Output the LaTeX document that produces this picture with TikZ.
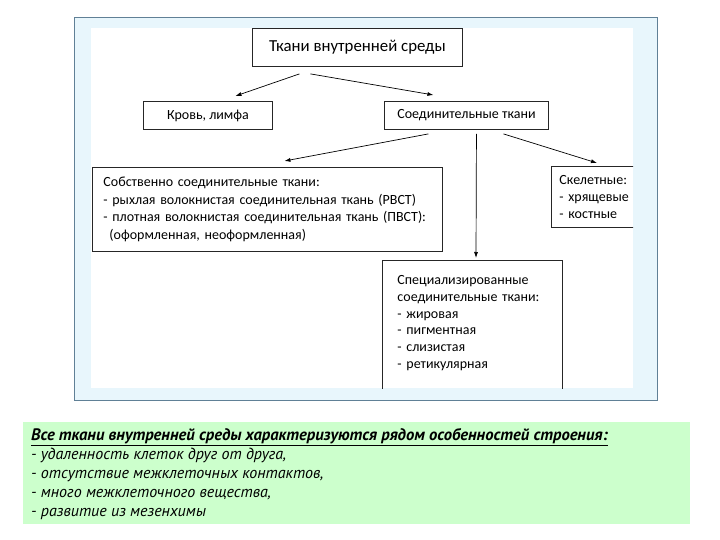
\documentclass[tikz,border=0pt]{standalone}
\usepackage{fontspec}
\setmainfont{Carlito}
\newfontfamily\cursive{PT Sans}
\usepackage{tikz}
\usetikzlibrary{arrows.meta}
\definecolor{bleuclair}{RGB}{232,246,252}
\definecolor{bleucadre}{RGB}{96,128,150}
\definecolor{vertclair}{RGB}{204,255,204}

\begin{document}
\begin{tikzpicture}[x=1pt,y=-1pt]
            % Styles
            \tikzstyle{fleche}=[-{Latex[length=6pt,width=4pt]},line width=0.7pt]
            \tikzstyle{boite}=[draw=black!85,line width=0.9pt,inner sep=0pt,anchor=north west,font=\fontsize{14}{16.8}\selectfont]
            \tikzstyle{liste}=[boite,align=left]
            \tikzstyle{remarque}=[inner sep=0pt,anchor=north west,align=left,font=\cursive\itshape\fontsize{16}{19}\selectfont]
            % Fond
            \useasboundingbox (0,0) rectangle (720,540);
            \fill[white] (0,0) rectangle (720,540);
            \draw[bleucadre,fill=bleuclair] (74,17) rectangle (657,400);
            \fill[white] (91,28) rectangle (633,388);
            \fill[vertclair] (23,422) rectangle (690,524);
            % Noeuds
            \begin{scope}
            \clip (91,28) rectangle (633,388);
            \node[boite,minimum width=210,minimum height=38,font=\fontsize{16.8}{19}\selectfont] (T) at (252,28) {Ткани внутренней среды};
            \node[boite,minimum width=129,minimum height=28] (K) at (143,101) {Кровь, лимфа};
            \node[boite,minimum width=164,minimum height=28] (C) at (384,101) {Соединительные ткани};
            \node[liste,text width=328,inner xsep=11pt,minimum height=84,font=\fontsize{14}{17.6}\selectfont] (L) at (92,167) {Собственно соединительные ткани:\\
                - рыхлая волокнистая соединительная ткань (РВСТ)\\
                - плотная волокнистая соединительная ткань (ПВСТ):\\
                \hspace*{6pt}(оформленная, неоформленная)};
            \node[liste,text width=110,inner xsep=8pt,minimum height=61] (Sk) at (551,166) {Скелетные:\\
                - хрящевые\\
                - костные};
            \node[liste,text width=150,inner xsep=15pt,inner ysep=15pt,text depth=120pt] (S) at (382,260) {Специализированные\\
                соединительные ткани:\\
                - жировая\\
                - пигментная\\
                - слизистая\\
                - ретикулярная};
            \end{scope}
            \node[remarque] (N) at (31,428) {{\bfseries\fontsize{16.6}{19}\selectfont\underline{Все ткани внутренней среды характеризуются рядом особенностей строения:}}\\
                - удаленность клеток друг от друга,\\
                - отсутствие межклеточных контактов,\\
                - много межклеточного вещества,\\
                - развитие из мезенхимы};
            % Arcs
            \draw[fleche] ([xshift=-58pt,yshift=-7pt]T.south) -- ([xshift=27.5pt,yshift=5pt]K.north);
            \draw[fleche] ([xshift=-47pt,yshift=-7pt]T.south) -- ([xshift=-33pt,yshift=6pt]C.north);
            \draw[fleche] ([xshift=-38pt,yshift=-4pt]C.south) -- ([xshift=17pt,yshift=6pt]L.north);
            \draw[fleche] ([xshift=10pt,yshift=-4pt]C.south) -- ([xshift=94pt,yshift=2pt]S.north west);
            \draw[fleche] ([xshift=37pt,yshift=-4pt]C.south) -- ([xshift=46pt,yshift=3pt]Sk.north west);
        \end{tikzpicture}
\end{document}
